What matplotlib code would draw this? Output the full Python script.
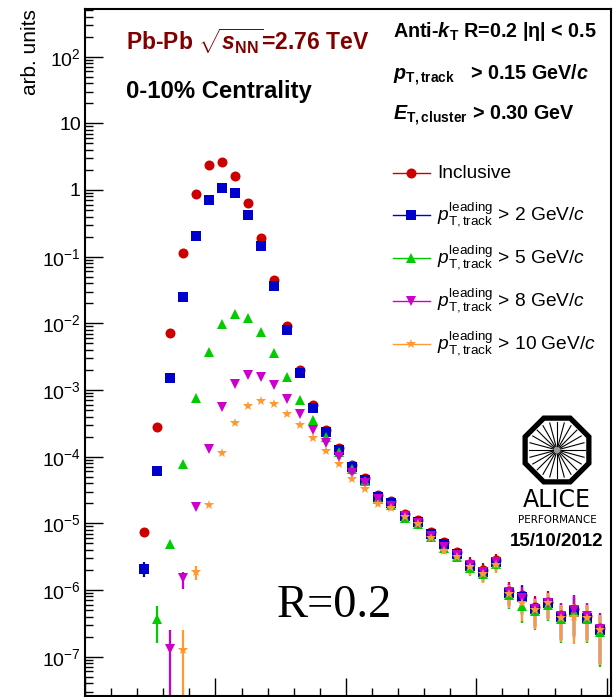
import numpy as np
import matplotlib
matplotlib.use('Agg')
import matplotlib.pyplot as plt
from matplotlib.ticker import FixedLocator, MultipleLocator, LogLocator, NullFormatter, FixedFormatter
from matplotlib.patches import RegularPolygon, Circle

plt.rcParams['font.family'] = ['Liberation Sans', 'DejaVu Sans']
plt.rcParams['mathtext.fontset'] = 'custom'
plt.rcParams['mathtext.rm'] = 'Liberation Sans'
plt.rcParams['mathtext.it'] = 'Liberation Sans:italic'
plt.rcParams['mathtext.bf'] = 'Liberation Sans:bold'
plt.rcParams['mathtext.bfit'] = 'Liberation Sans:italic:bold'

nan = np.nan

# bin centres (GeV/c)
pt = [-11, -9, -7, -5, -3, -1, 1, 3, 5, 7, 9, 11, 13, 15, 17, 19, 21, 23,
      25, 27, 29, 31, 33, 35, 37, 39, 41, 43, 45, 47, 49, 51, 53, 55, 57, 59]

inclusive = [7.3e-6, 2.76e-4, 7.1e-3, 0.115, 0.87, 2.35, 2.61, 1.60, 0.645, 0.19,
             0.0447, 9.1e-3, 2.0e-3, 5.86e-4, 2.55e-4, 1.36e-4, 7.6e-5, 4.8e-5,
             2.68e-5, 2.18e-5, 1.39e-5, 1.13e-5, 7.4e-6, 5.2e-6, 3.67e-6, 2.48e-6,
             2.0e-6, 2.78e-6, 9.5e-7, 8.3e-7, 5.55e-7, 6.7e-7, 4.15e-7, 5.2e-7, 4.1e-7, 2.65e-7]
lead2 = [2.07e-6, 6.1e-5, 1.51e-3, 0.0251, 0.206, 0.708, 1.08, 0.89, 0.42, 0.145,
         0.0367, 8.0e-3, 1.8e-3, 5.4e-4, 2.37e-4, 1.27e-4, 7.1e-5, 4.5e-5,
         2.51e-5, 2.04e-5, 1.3e-5, 1.06e-5, 6.9e-6, 4.85e-6, 3.43e-6, 2.32e-6,
         1.88e-6, 2.61e-6, 8.9e-7, 7.8e-7, 5.2e-7, 6.3e-7, 3.9e-7, 4.9e-7, 3.85e-7, 2.49e-7]
lead5 = [nan, 3.67e-7, 4.9e-6, 7.7e-5, 7.7e-4, 3.68e-3, 9.7e-3, 0.0137, 0.0119, 7.3e-3,
         3.65e-3, 1.58e-3, 7.2e-4, 3.55e-4, 2.0e-4, 1.16e-4, 6.5e-5, 4.36e-5,
         2.32e-5, 1.88e-5, 1.2e-5, 9.8e-6, 6.2e-6, 4.27e-6, 3.1e-6, 2.17e-6,
         1.74e-6, 2.45e-6, 8.4e-7, 5.75e-7, 4.84e-7, 5.96e-7, 3.67e-7, 4.68e-7, 3.67e-7, 2.35e-7]
lead8 = [nan, nan, 1.29e-7, 1.53e-6, 1.75e-5, 1.29e-4, 5.5e-4, 1.23e-3, 1.68e-3, 1.59e-3,
         1.19e-3, 7.3e-4, 4.34e-4, 2.54e-4, 1.62e-4, 9.8e-5, 5.6e-5, 3.99e-5,
         2.32e-5, 1.84e-5, 1.29e-5, 1.01e-5, 6.46e-6, 4.46e-6, 3.35e-6, 2.37e-6,
         1.86e-6, 2.63e-6, 9.3e-7, 7.6e-7, 5.2e-7, 6.4e-7, 4.07e-7, 5.0e-7, 4.07e-7, 2.6e-7]
lead10 = [nan, nan, nan, 1.26e-7, 1.88e-6, 1.87e-5, 1.12e-4, 3.17e-4, 5.8e-4, 6.8e-4,
          6.1e-4, 4.37e-4, 2.99e-4, 1.93e-4, 1.23e-4, 7.7e-5, 4.58e-5, 3.31e-5,
          1.93e-5, 1.72e-5, 1.25e-5, 9.8e-6, 6.1e-6, 3.89e-6, 3.09e-6, 2.19e-6,
          1.74e-6, 2.37e-6, 8.7e-7, 6.3e-7, 5.0e-7, 6.3e-7, 3.8e-7, 3.9e-7, 3.8e-7, 2.48e-7]

# relative stat. errors in the tail (same for all selections)
rel_err = [0, 0, 0, 0, 0, 0, 0, 0, 0, 0, 0, 0, 0, 0, 0, 0, 0, 0,
           0.03, 0.03, 0.05, 0.05, 0.08, 0.10, 0.15, 0.25, 0.28, 0.25,
           0.38, 0.45, 0.48, 0.43, 0.56, 0.60, 0.57, 0.70]
# big errors at the low-pT end: (pt, rel. down, rel. up)
low_err = {
    'lead2': [(-11, 0.23, 0.26)],
    'lead5': [(-9, 0.57, 0.59)],
    'lead8': [(-7, 0.999, 0.94), (-5, 0.32, 0.23)],
    'lead10': [(-5, 0.999, 0.98), (-3, 0.25, 0.23)],
}

series = [
    ('inclusive', inclusive, 'o', '#cc0000', 7.2, 'Inclusive'),
    ('lead2', lead2, 's', '#0000cc', 7.2, r'$p^{\rm leading}_{\rm T,track}$ > 2 GeV/$c$'),
    ('lead5', lead5, '^', '#00cc00', 7.0, r'$p^{\rm leading}_{\rm T,track}$ > 5 GeV/$c$'),
    ('lead8', lead8, 'v', '#cc00cc', 7.0, r'$p^{\rm leading}_{\rm T,track}$ > 8 GeV/$c$'),
    ('lead10', lead10, '*', '#ff9933', 7.0, r'$p^{\rm leading}_{\rm T,track}$ > 10 GeV/$c$'),
]

W, H = 615, 697
fig = plt.figure(figsize=(W / 100, H / 100), dpi=100)
ax = fig.add_axes([85 / W, 1 - 696 / H, (611 - 85) / W, (696 - 9) / H])
ax.set_yscale('log')

x = np.array(pt, dtype=float)
err = np.array(rel_err)
for key, vals, mk, col, ms, lab in series:
    y = np.array(vals, dtype=float)
    lo = y * err
    hi = y * err
    for p, d, u in low_err.get(key, []):
        i = pt.index(p)
        lo[i] = y[i] * d
        hi[i] = y[i] * u
    ok = np.isfinite(y)
    ax.errorbar(x[ok], y[ok], yerr=[lo[ok], hi[ok]], fmt=mk, color=col, ms=ms,
                mew=0, elinewidth=1.6, capsize=0)

ax.set_xlim(-20, 60.66)
ax.set_ylim(10 ** -7.59, 10 ** 2.715)

ydec = [1e-7, 1e-6, 1e-5, 1e-4, 1e-3, 1e-2, 1e-1, 1, 10, 100]
ylabs = [r'$\mathregular{10^{-7}}$', r'$\mathregular{10^{-6}}$', r'$\mathregular{10^{-5}}$',
         r'$\mathregular{10^{-4}}$', r'$\mathregular{10^{-3}}$', r'$\mathregular{10^{-2}}$',
         r'$\mathregular{10^{-1}}$', '1', '10', r'$\mathregular{10^{2}}$']
ax.yaxis.set_major_locator(FixedLocator(ydec))
ax.yaxis.set_major_formatter(FixedFormatter(ylabs))
ax.yaxis.set_minor_locator(LogLocator(base=10, subs=np.arange(2, 10), numticks=30))
ax.yaxis.set_minor_formatter(NullFormatter())
ax.xaxis.set_major_locator(MultipleLocator(20))
ax.xaxis.set_minor_locator(MultipleLocator(4))

ax.tick_params(which='both', direction='in', left=True, right=False, top=False,
               bottom=True, labelbottom=False, width=1.0, colors='black')
ax.tick_params(which='major', length=13, labelsize=14, pad=3)
ax.tick_params(which='minor', length=6)
for s in ax.spines.values():
    s.set_linewidth(1.5)

# overlay in pixel coordinates for the text, legend and logo
ov = fig.add_axes([0, 0, 1, 1])
ov.set_xlim(0, W)
ov.set_ylim(H, 0)
ov.axis('off')

ov.text(30, 9, 'arb. units', rotation=90, ha='center', va='top', fontsize=15)

ov.text(126, 50, r'Pb-Pb $\sqrt{\mathbfit{s}_{\mathbf{NN}}}$=2.76 TeV', fontsize=16.5,
        fontweight='bold', color='#800000', va='baseline')
ov.text(126, 98, '0-10% Centrality', fontsize=17.2, fontweight='bold', va='baseline')

ov.text(393, 37, r'Anti-$\mathbfit{k}_{\mathbf{T}}$ R=0.2 |η| < 0.5', fontsize=14.2,
        fontweight='bold', va='baseline')
ov.text(393, 80, r'$\mathbfit{p}_{\mathbf{T,track}}$   > 0.15 GeV/$\mathbfit{c}$', fontsize=14.2,
        fontweight='bold', va='baseline')
ov.text(393, 120, r'$\mathbfit{E}_{\mathbf{T,cluster}}$ > 0.30 GeV', fontsize=14.2,
        fontweight='bold', va='baseline')

# legend
rows = [173, 215, 258, 301, 344]
for (key, vals, mk, col, ms, lab), yr in zip(series, rows):
    ov.plot([393, 430], [yr, yr], color=col, lw=1.0)
    ov.plot([411], [yr], marker=mk, color=col, ms=ms, mew=0, ls='none')
    ov.text(437, yr, lab, fontsize=13.8, va='center', ha='left')

ov.text(277, 617, 'R=0.2', fontsize=33.5, family='Liberation Serif', va='baseline')

# ALICE performance logo
cx, cy = 557, 450
ov.add_patch(RegularPolygon((cx, cy), numVertices=8, radius=34.5, orientation=np.pi / 8,
                            fill=False, lw=3.8, ec='black'))
for a in np.linspace(0, 2 * np.pi, 24, endpoint=False):
    ov.plot([cx + 4 * np.cos(a), cx + 28 * np.cos(a)],
            [cy + 4 * np.sin(a), cy + 28 * np.sin(a)], color='black', lw=0.8)
ov.add_patch(Circle((cx, cy), 4, color='#999999', lw=0))
ov.text(cx, 507, 'ALICE', fontsize=17, family='DejaVu Sans', ha='center', va='baseline')
ov.text(cx, 523, 'PERFORMANCE', fontsize=7.5, family='DejaVu Sans', ha='center', va='baseline')
ov.text(cx, 546, '15/10/2012', fontsize=13.5, fontweight='bold', ha='center', va='baseline')

fig.savefig('out.png', dpi=100)
